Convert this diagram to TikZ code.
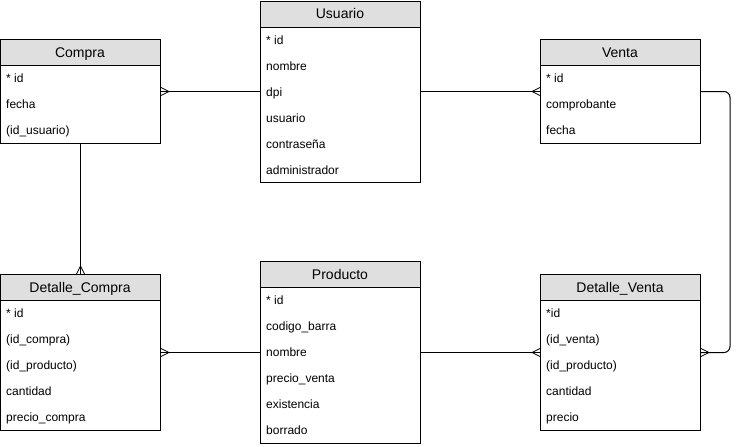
\documentclass[tikz,border=0pt]{standalone}
\usepackage{fontspec}
\setmainfont{Liberation Sans}
\usetikzlibrary{calc}
\tikzset{
  ent/.style={draw, line width=1pt, minimum width=160pt, inner sep=0pt, anchor=north west, fill=white},
  hdr/.style={draw, line width=1pt, fill=gray!25, minimum width=160pt, minimum height=26pt, inner sep=0pt, anchor=north west},
  hdrtxt/.style={anchor=base, inner sep=0pt, font=\fontsize{14}{16}\selectfont},
  rowtxt/.style={anchor=base west, inner sep=0pt, font=\fontsize{12}{14}\selectfont},
  conn/.style={line width=1pt},
  crowl/.style={line width=0.8pt}
}
\newcommand{\erbox}[6]{%
  \node[ent, minimum height=#4pt] (#1) at (#2,#3) {};
  \node[hdr] (#1-h) at (#2,#3) {};
  \node[hdrtxt] (#1-t) at ({#2+80},{#3+18}) {#5};
  \foreach \t [count=\i] in {#6} {
    \node[rowtxt] (#1-\i) at ({#2+6},{#3+26*\i+17.5}) {\t};
  }
}
\begin{document}
\begin{tikzpicture}[x=1pt, y=-1pt]
\useasboundingbox (0,0) rectangle (739,447);
\erbox{compra}{0}{39}{104}{Compra}{{* id},{fecha},{(id\_usuario)}}
\erbox{usuario}{260}{1}{181}{Usuario}{{* id},{nombre},{dpi},{usuario},{contraseña},{administrador}}
\erbox{venta}{540}{39}{104}{Venta}{{* id},{comprobante},{fecha}}
\erbox{dcompra}{0}{274}{156}{Detalle\_Compra}{{* id},{(id\_compra)},{(id\_producto)},{cantidad},{precio\_compra}}
\erbox{producto}{260}{261}{182}{Producto}{{* id},{codigo\_barra},{nombre},{precio\_venta},{existencia},{borrado}}
\erbox{dventa}{540}{274}{156}{Detalle\_Venta}{{*id},{(id\_venta)},{(id\_producto)},{cantidad},{precio}}

% connectors
\draw[conn] (usuario.west |- compra.east) -- (compra.east);
\draw[crowl] ($(compra.east)+(8,0)$) -- ($(compra.east)+(0,-4)$);
\draw[crowl] ($(compra.east)+(8,0)$) -- ($(compra.east)+(0,4)$);

\draw[conn] (usuario.east |- venta.west) -- (venta.west);
\draw[crowl] ($(venta.west)+(-8,0)$) -- ($(venta.west)+(0,-4)$);
\draw[crowl] ($(venta.west)+(-8,0)$) -- ($(venta.west)+(0,4)$);

\draw[conn] (compra.south) -- (dcompra.north);
\draw[crowl] ($(dcompra.north)+(0,-8)$) -- ($(dcompra.north)+(-4,0)$);
\draw[crowl] ($(dcompra.north)+(0,-8)$) -- ($(dcompra.north)+(4,0)$);

\draw[conn] (producto.west |- dcompra.east) -- (dcompra.east);
\draw[crowl] ($(dcompra.east)+(8,0)$) -- ($(dcompra.east)+(0,-4)$);
\draw[crowl] ($(dcompra.east)+(8,0)$) -- ($(dcompra.east)+(0,4)$);

\draw[conn] (producto.east |- dventa.west) -- (dventa.west);
\draw[crowl] ($(dventa.west)+(-8,0)$) -- ($(dventa.west)+(0,-4)$);
\draw[crowl] ($(dventa.west)+(-8,0)$) -- ($(dventa.west)+(0,4)$);

\coordinate (rt) at (730,0);
\draw[conn, rounded corners=6pt] (venta.east) -- (venta.east -| rt) -- (dventa.east -| rt) -- (dventa.east);
\draw[crowl] ($(dventa.east)+(8,0)$) -- ($(dventa.east)+(0,-4)$);
\draw[crowl] ($(dventa.east)+(8,0)$) -- ($(dventa.east)+(0,4)$);
\end{tikzpicture}
\end{document}
